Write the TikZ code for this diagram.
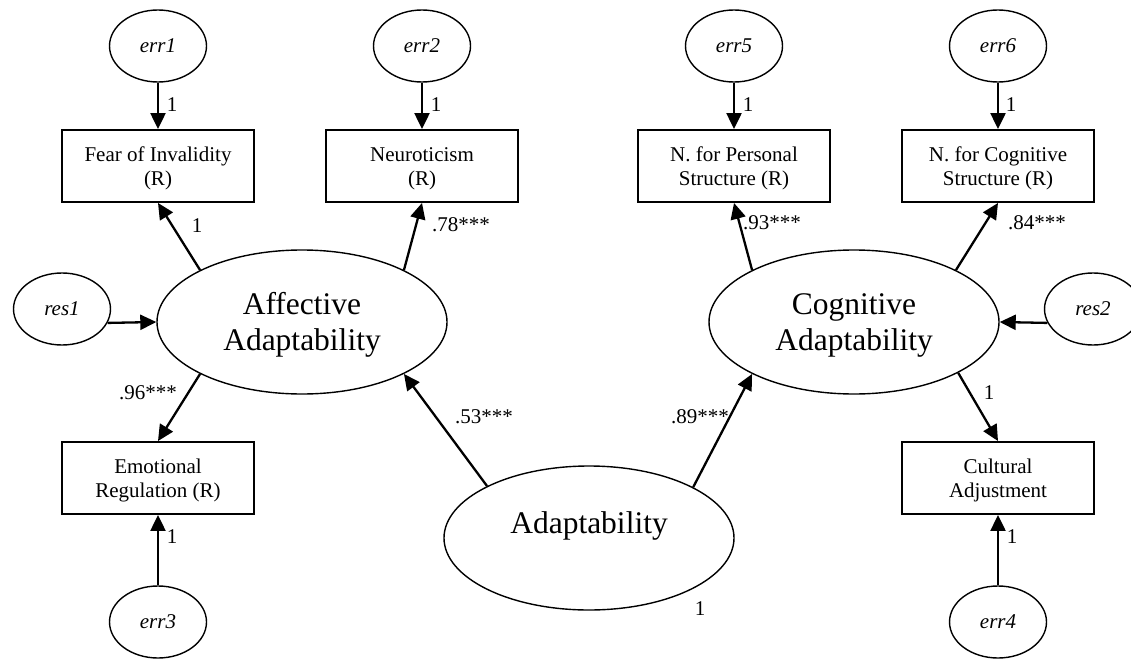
\documentclass[tikz,border=0pt]{standalone}
\usepackage{fontspec}
\setmainfont{Liberation Serif}
\usetikzlibrary{shapes.geometric,arrows.meta}
\begin{document}
\begin{tikzpicture}[x=1pt,y=-1pt,
  lat/.style={ellipse,draw,line width=1.4pt,inner sep=0pt,minimum width=290pt,minimum height=144pt,font=\fontsize{31.5}{36}\selectfont,align=center},
  errv/.style={ellipse,draw,line width=1.4pt,inner sep=0pt,minimum width=97pt,minimum height=72pt,font=\fontsize{21}{24}\selectfont\itshape},
  obs/.style={rectangle,draw,line width=1.9pt,inner sep=0pt,minimum width=192pt,minimum height=72pt,font=\fontsize{21}{24}\selectfont,align=center,text height=44pt},
  coef/.style={inner sep=0pt,font=\fontsize{21}{24}\selectfont},
  arr/.style={line width=2.3pt,-{Triangle[length=16pt,width=15pt]}}]
\useasboundingbox[fill=white] (0,0) rectangle (1131,658);
% error terms top
\node[errv] (e1) at (158,46) {err1};
\node[errv] (e2) at (422,46) {err2};
\node[errv] (e5) at (734,46) {err5};
\node[errv] (e6) at (998,46) {err6};
% indicators top
\node[obs] (fear) at (158,166) {Fear of Invalidity\\(R)};
\node[obs] (neuro) at (422,166) {Neuroticism\\(R)};
\node[obs] (npers) at (734,166) {N. for Personal\\Structure (R)};
\node[obs] (ncog) at (998,166) {N. for Cognitive\\Structure (R)};
% residuals
\node[errv] (r1) at (62,309) {res1};
\node[errv] (r2) at (1093,309) {res2};
% latent
\node[lat,text height=64pt] (aff) at (302,322) {Affective\\Adaptability};
\node[lat,text height=64pt] (cog) at (854,322) {Cognitive\\Adaptability};
\node[lat,text height=22pt,text depth=32pt] (adapt) at (589,538) {Adaptability};
% indicators bottom
\node[obs] (emo) at (158,478) {Emotional\\Regulation (R)};
\node[obs] (cult) at (998,478) {Cultural\\Adjustment};
\node[errv] (e3) at (158,622) {err3};
\node[errv] (e4) at (998,622) {err4};
% arrows
\draw[arr] (e1) -- (fear);
\draw[arr] (e2) -- (neuro);
\draw[arr] (e5) -- (npers);
\draw[arr] (e6) -- (ncog);
\draw[arr] (e3) -- (emo);
\draw[arr] (e4) -- (cult);
\draw[arr] (aff.153) -- (fear.south);
\draw[arr] (aff.27) -- (neuro.south);
\draw[arr] (aff.207) -- (emo.north);
\draw[arr] (cog.153) -- (npers.south);
\draw[arr] (cog.27) -- (ncog.south);
\draw[arr] (cog.-26) -- (cult.north);
\draw[arr] (adapt.153) -- (aff.-27);
\draw[arr] (adapt.26) -- (cog.207);
\draw[arr] (r1.-17) -- (aff.west);
\draw[arr] (r2.197) -- (cog.east);
% coefficients
\node[coef] (c1) at (172,105) {1};
\node[coef] (c2) at (436,105) {1};
\node[coef] (c5) at (748,105) {1};
\node[coef] (c6) at (1011,105) {1};
\node[coef] (c3) at (172,537) {1};
\node[coef] (c4) at (1012,537) {1};
\node[coef] (cf) at (197,226) {1};
\node[coef] (cn) at (461,225) {.78***};
\node[coef] (cp) at (772,223) {.93***};
\node[coef] (cc) at (1037,223) {.84***};
\node[coef] (ce) at (148,393) {.96***};
\node[coef] (ca) at (484,417) {.53***};
\node[coef] (cg) at (700,417) {.89***};
\node[coef] (cu) at (989,393) {1};
\node[coef] (cd) at (700,609) {1};
\end{tikzpicture}
\end{document}
